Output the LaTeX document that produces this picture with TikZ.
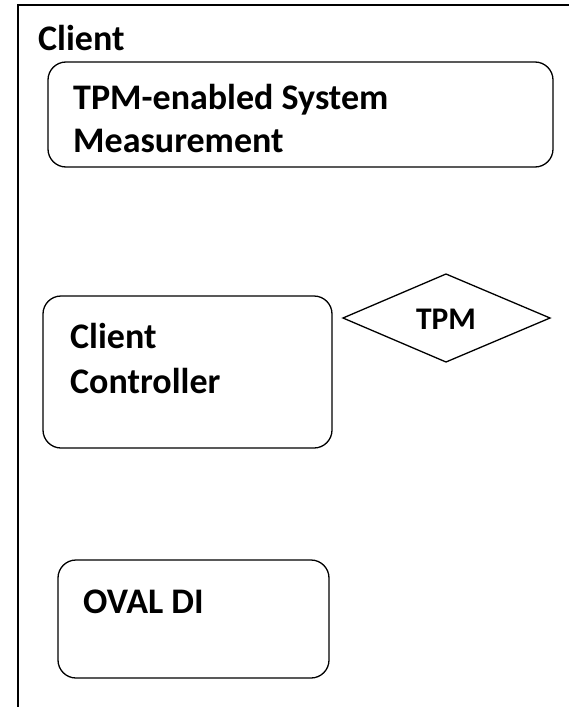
\documentclass[tikz,border=0pt]{standalone}
\usepackage{fontspec}
\setmainfont{Carlito}
\usetikzlibrary{shapes.geometric}
\begin{document}
\begin{tikzpicture}[x=1pt,y=-1pt,
  box/.style={draw, line width=1.3pt, rounded corners=18pt},
  lbl/.style={anchor=base west, inner sep=0pt, font=\fontsize{36}{43}\selectfont\bfseries},
  small/.style={anchor=base, inner sep=0pt, font=\fontsize{31.5}{38}\selectfont\bfseries}]
\useasboundingbox (0,0) rectangle (569,707);
\fill[white] (0,0) rectangle (569,707);
% outer frame (only left and top edges visible)
\coordinate (fb) at (18,720);
\coordinate (ft) at (18,5);
\coordinate (fr) at (580,5);
\draw[line width=1.3pt] (fb) -- (ft) -- (fr);
\node[lbl] (client) at (38,50) {Client};
% TPM-enabled System Measurement
\draw[box] (48,62) rectangle (553,167);
\node[lbl] (m1) at (73,109) {TPM-enabled System};
\node[lbl] (m2) at (73,152) {Measurement};
% Client Controller
\draw[box] (43,296) rectangle (332,448);
\node[lbl] (c1) at (70,348) {Client};
\node[lbl] (c2) at (70,393) {Controller};
% OVAL DI
\draw[box] (58,560) rectangle (329,678);
\node[lbl] (o1) at (83,613) {OVAL DI};
% TPM diamond
\coordinate (dl) at (343,318);
\coordinate (dt) at (446,274);
\coordinate (dr) at (550,318);
\coordinate (db) at (446,362);
\draw[line width=1.3pt] (dl) -- (dt) -- (dr) -- (db) -- cycle;
\node[small] (tpm) at (446,329) {TPM};
\end{tikzpicture}
\end{document}
